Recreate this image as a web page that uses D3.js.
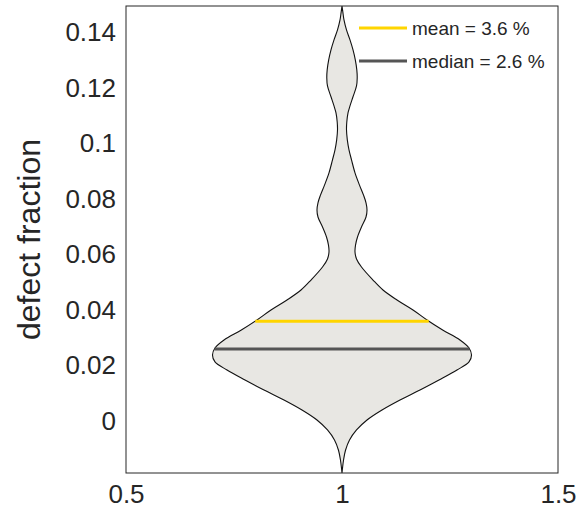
<!DOCTYPE html>
<html>
<head>
<meta charset="utf-8">
<script src="https://cdn.jsdelivr.net/npm/d3@7"></script>
<style>
  body { margin: 0; background: #fff; }
  text { font-family: Helvetica, Arial, "Liberation Sans", sans-serif; fill: #262626; }
</style>
</head>
<body>
<div id="chart"></div>
<script>
// density profile of the violin: defect fraction -> half width (in x units)
var profileY = [0.1495, 0.1474, 0.1445, 0.1409, 0.1373, 0.1337, 0.1301, 0.1265, 0.1236,
                0.1207, 0.1168, 0.1135, 0.1110, 0.1077, 0.1049, 0.1013, 0.0977, 0.0941,
                0.0894, 0.0850, 0.0814, 0.0786, 0.0760, 0.0735, 0.0699, 0.0663, 0.0634,
                0.0609, 0.0584, 0.0555, 0.0508, 0.0472, 0.0436, 0.0400, 0.0364, 0.0328,
                0.0292, 0.0263, 0.0238, 0.0213, 0.0184, 0.0148, 0.0112, 0.0076, 0.0040,
                0.0004, -0.0032, -0.0068, -0.0105, -0.0141, -0.0187];
var profileW = [0, 0.0019, 0.0046, 0.0104, 0.0185, 0.0255, 0.0308, 0.0343, 0.0352,
                0.0336, 0.0255, 0.0185, 0.0139, 0.0111, 0.0104, 0.0123, 0.0162, 0.0220,
                0.0301, 0.0405, 0.0498, 0.0556, 0.0579, 0.0556, 0.0451, 0.0359, 0.0313,
                0.0301, 0.0336, 0.0451, 0.0718, 0.0949, 0.1273, 0.1644, 0.1968, 0.2330,
                0.2731, 0.2940, 0.2998, 0.2940, 0.2662, 0.2245, 0.1806, 0.1343, 0.0926,
                0.0579, 0.0336, 0.0174, 0.0081, 0.0035, 0];

var stats = [
    { name: "mean", value: 0.036, color: "#ffd500", label: "mean = 3.6 %" },
    { name: "median", value: 0.026, color: "#555555", label: "median = 2.6 %" }
];

var xTicks = [0.5, 1, 1.5];
var yTicks = [0, 0.02, 0.04, 0.06, 0.08, 0.1, 0.12, 0.14];
var center = 1;

var W = 579, H = 518,
    margin = { left: 126, right: 21, top: 6, bottom: 45 };

var svg = d3.select("#chart").append("svg")
    .attr("width", W)
    .attr("height", H);

var x = d3.scaleLinear().domain([0.5, 1.5]).range([margin.left, W - margin.right]);
var y = d3.scaleLinear().domain([-0.0187, 0.1495]).range([H - margin.bottom, margin.top]);

var profile = profileY.map(function (v, i) { return { v: v, w: profileW[i] }; });

// violin body
var area = d3.area()
    .curve(d3.curveCatmullRom)
    .y(function (d) { return y(d.v); })
    .x0(function (d) { return x(center - d.w); })
    .x1(function (d) { return x(center + d.w); });

svg.append("path")
    .datum(profile)
    .attr("d", area)
    .attr("fill", "#e8e7e3")
    .attr("stroke", "#111")
    .attr("stroke-width", 1.1);

// half width of the violin at a given value (linear between profile points)
function widthAt(v) {
    for (var i = 0; i < profile.length - 1; i++) {
        var a = profile[i], b = profile[i + 1];
        if (v <= a.v && v >= b.v) {
            return a.w + (b.w - a.w) * (a.v - v) / (a.v - b.v);
        }
    }
    return 0;
}

// mean and median lines
svg.selectAll("line.stat")
    .data(stats)
    .enter()
    .append("line")
    .attr("class", "stat")
    .attr("x1", function (d) { return x(center - widthAt(d.value)); })
    .attr("x2", function (d) { return x(center + widthAt(d.value)); })
    .attr("y1", function (d) { return y(d.value); })
    .attr("y2", function (d) { return y(d.value); })
    .attr("stroke", function (d) { return d.color; })
    .attr("stroke-width", 3);

// box
svg.append("rect")
    .attr("x", margin.left)
    .attr("y", margin.top)
    .attr("width", W - margin.left - margin.right)
    .attr("height", H - margin.top - margin.bottom)
    .attr("fill", "none")
    .attr("stroke", "#262626")
    .attr("stroke-width", 1);

// axes, no tick marks
var xAxis = svg.append("g")
    .attr("transform", "translate(0," + (H - margin.bottom) + ")")
    .call(d3.axisBottom(x).tickValues(xTicks).tickSize(0).tickPadding(12).tickFormat(d3.format("")));
var yAxis = svg.append("g")
    .attr("transform", "translate(" + margin.left + ",0)")
    .call(d3.axisLeft(y).tickValues(yTicks).tickSize(0).tickPadding(10).tickFormat(d3.format("")));
[xAxis, yAxis].forEach(function (g) {
    g.select(".domain").remove();
    g.selectAll("text").style("font-size", "26px").attr("fill", "#262626");
});

svg.append("text")
    .attr("transform", "translate(40," + ((margin.top + H - margin.bottom) / 2) + ") rotate(-90)")
    .attr("text-anchor", "middle")
    .style("font-size", "32px")
    .text("defect fraction");

// legend
var legend = svg.selectAll("g.legend")
    .data(stats)
    .enter()
    .append("g")
    .attr("class", "legend")
    .attr("transform", function (d, i) { return "translate(359," + (28 + i * 33) + ")"; });
legend.append("line")
    .attr("x1", 0).attr("x2", 48)
    .attr("stroke", function (d) { return d.color; })
    .attr("stroke-width", 3);
legend.append("text")
    .attr("x", 53)
    .attr("dy", "0.35em")
    .style("font-size", "19px")
    .text(function (d) { return d.label; });
</script>
</body>
</html>
